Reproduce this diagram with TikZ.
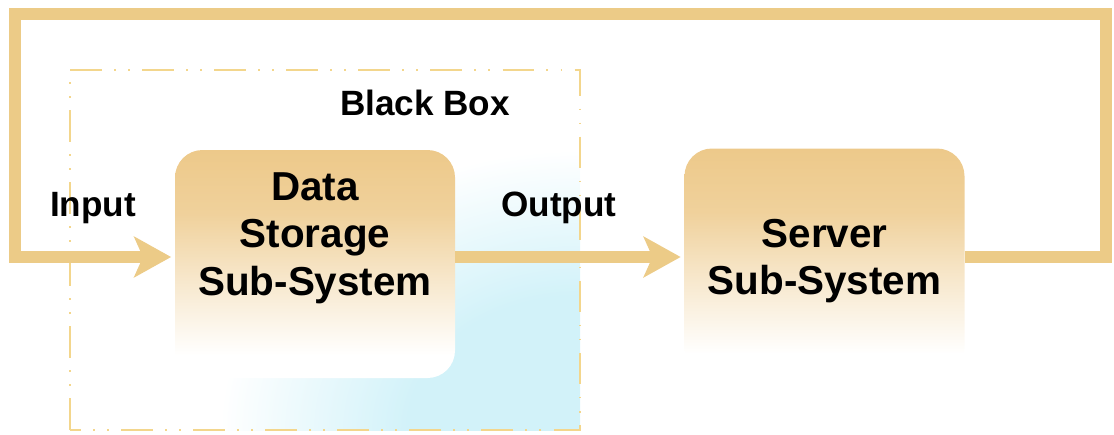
\documentclass[tikz,border=0pt]{standalone}
\usepackage{fontspec}
\setmainfont{Liberation Sans}
\usetikzlibrary{arrows.meta, positioning}

\definecolor{bandtan}{HTML}{ECCB87}
\definecolor{boxtan}{HTML}{EDC98A}
\definecolor{dashgold}{HTML}{F3D68C}
\definecolor{skyfill}{HTML}{D2F2F9}

\pgfdeclareverticalshading{boxfade}{100bp}{color(0bp)=(white); color(30bp)=(white); color(47bp)=(boxtan!45!white); color(61bp)=(boxtan!85!white); color(75bp)=(boxtan); color(100bp)=(boxtan)}
\pgfdeclareradialshading{skycorner}{\pgfpoint{0bp}{0bp}}{color(0bp)=(skyfill); color(12bp)=(skyfill); color(25bp)=(white); color(50bp)=(white)}

\tikzset{
	sysbox/.style={shade, shading=boxfade, rounded corners=0.55cm, minimum width=5.6cm, minimum height=4.56cm, inner sep=0pt},
	systext/.style={font=\fontsize{23}{27}\selectfont\bfseries, align=center},
	tag/.style={font=\fontsize{20}{24}\selectfont\bfseries},
	band/.style={line width=0.25cm, draw=bandtan},
	bandarrow/.style={band, -{Stealth[length=21pt, width=23pt, inset=5pt]}},
	boxline/.style={draw=dashgold, line width=1.2pt, dash pattern=on 18pt off 7pt on 1pt off 7pt on 1pt off 7pt}
}

\begin{document}
\begin{tikzpicture}
		\useasboundingbox (0,0) rectangle (22.28,8.68);

		% blue wash in the lower corner of the black box
		\begin{scope}
			\clip (1.4,0.08) rectangle (11.6,7.28);
			\shade [shading=skycorner] (11.6,0.08) ellipse (7.2 and 5.6);
		\end{scope}
		\draw [boxline] (1.4,0.08) rectangle (11.6,7.28);

		\node [sysbox] (dss) at (6.3,3.40) {};
		\node [sysbox] (srv) at (16.49,3.43) {};
		\node [systext] (dsstext) at (6.3,3.92) {Data\\Storage\\Sub-System};
		\node [systext] (srvtext) at (16.49,3.46) {Server\\Sub-System};

		\node [tag] (bb) at (8.5,6.62) {Black Box};
		\node [tag] (in) at (1.86,4.52) {Input};
		\node [tag] (out) at (11.18,4.52) {Output};

		\coordinate (row) at (0,3.54);
		\coordinate (loopne) at (22.12,8.40);
		\coordinate (loopnw) at (0.30,8.40);

		\draw [bandarrow, shorten >=2pt] (dss.east |- row) -- (srv.west |- row);
		\draw [bandarrow, shorten >=2pt] (srv.east |- row) -| (loopne) -- (loopnw) |- (dss.west |- row);
	\end{tikzpicture}
\end{document}
